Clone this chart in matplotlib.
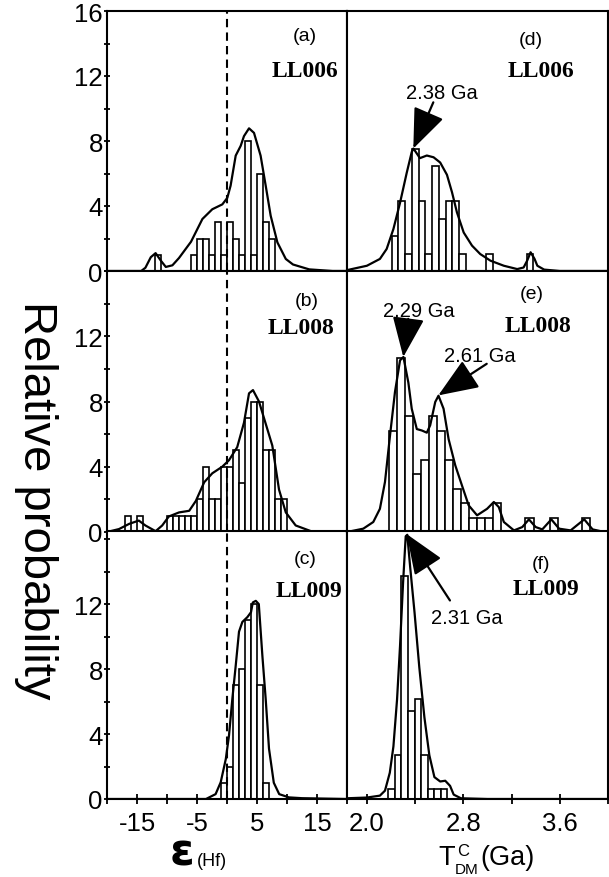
import numpy as np
import matplotlib
matplotlib.use("Agg")
import matplotlib.pyplot as plt

plt.rcParams['font.family'] = ['Liberation Sans', 'DejaVu Sans']
plt.rcParams['axes.unicode_minus'] = False

# ---- epsilon Hf histograms (bin width 1, first left edge given) ----
a_start = -12
a_counts = [1, 0, 0, 0, 0, 0, 1, 2, 2, 1, 3, 1, 3, 2, 1, 8, 1, 6, 3, 2]
b_start = -17
b_counts = [1, 0, 1, 0, 0, 0, 0, 1, 1, 1, 1, 1, 2, 4, 2, 2, 4, 4, 5, 3, 7, 8, 8, 5, 5, 2, 2]
c_start = -1
c_counts = [1, 2, 7, 8, 11, 12, 7, 1]
eps_width = 1.0

# probability curves
a_cx = [-20, -14.3, -13.6, -12.7, -11.9, -11.05, -10.2, -9.1, -8.0, -6.0, -4.1, -2.45, -0.78,
        0.05, 0.6, 1.45, 2.28, 2.83, 3.67, 4.5, 5.6, 6.45, 7.28, 8.4, 9.8, 11.0, 13.7, 17.6, 20]
a_cy = [0, 0, 0.2, 0.85, 1.1, 0.65, 0.25, 0.35, 0.8, 1.8, 3.2, 3.8, 4.1,
        4.5, 5.25, 7.1, 7.7, 8.3, 8.78, 8.5, 7.1, 5.25, 3.4, 1.76, 0.74, 0.4, 0.1, 0, 0]
b_cx = [-20, -18, -16.3, -14.7, -13.6, -11.9, -10.8, -9.7, -8.0, -6.3, -5.2, -3.8, -2.45, -0.8,
        0.33, 1.7, 2.83, 3.67, 4.33, 5.33, 6.4, 7.55, 8.67, 9.8, 11.45, 14, 20]
b_cy = [0, 0.18, 0.5, 0.7, 0.4, 0.05, 0.4, 0.95, 1.2, 1.3, 1.9, 3.05, 3.6, 4.0,
        4.4, 5.2, 6.7, 8.5, 8.7, 8.0, 6.7, 5.3, 2.6, 1.2, 0.4, 0.05, 0]
c_cx = [-20, -3.5, -1.9, -1.05, -0.2, 0.33, 0.9, 1.45, 2.0, 2.56, 3.4, 4.0, 4.3, 4.8, 5.3,
        5.9, 6.45, 7.0, 7.8, 8.7, 10.3, 12.5, 20]
c_cy = [0, 0, 0.3, 1.03, 2.46, 3.9, 6.2, 8.2, 10.3, 10.9, 11.2, 11.5, 12.1, 12.2, 12.0,
        8.8, 6.15, 3.1, 1.0, 0.3, 0.1, 0.05, 0]

# ---- T_DM^C histograms ----
d_start, d_width = 2.205, 0.056
d_counts = [2, 4, 1, 7, 4, 1, 6, 3, 4, 4, 1, 0, 0, 0, 1, 0, 0, 0, 0, 0, 1]
e_start, e_width = 2.18, 0.0668
e_counts = [7, 12, 8, 4, 5, 8, 7, 5, 3, 2, 1, 1, 1, 2, 0, 0, 0, 1, 0, 0, 1, 0, 0, 0, 1]
f_start, f_width = 2.178, 0.0545
f_counts = [0.7, 3.0, 15.3, 6.05, 6.85, 3.0, 0.7, 0.7, 0.7]

d_cx = [1.835, 2.0, 2.108, 2.164, 2.22, 2.275, 2.33, 2.372, 2.386, 2.44, 2.497, 2.553, 2.608,
        2.664, 2.706, 2.747, 2.803, 2.872, 2.94, 3.025, 3.136, 3.247, 3.3, 3.33, 3.358, 3.39,
        3.414, 3.47, 3.6, 4.0]
d_cy = [0.05, 0.3, 0.69, 1.26, 2.4, 3.9, 5.6, 6.8, 7.0, 6.45, 6.6, 6.5, 6.2,
        5.5, 4.5, 3.35, 2.2, 1.45, 0.97, 0.59, 0.3, 0.11, 0.2, 0.6, 1.07, 0.7,
        0.3, 0.08, 0, 0]
e_cx = [1.835, 1.97, 2.053, 2.108, 2.15, 2.192, 2.233, 2.275, 2.303, 2.344, 2.372, 2.414, 2.456,
        2.497, 2.525, 2.567, 2.594, 2.636, 2.678, 2.733, 2.789, 2.844, 2.914, 2.997, 3.053,
        3.094, 3.136, 3.22, 3.289, 3.344, 3.4, 3.455, 3.53, 3.594, 3.69, 3.803, 3.872, 3.97, 4.0]
e_cy = [0, 0.23, 0.69, 1.6, 3.45, 6.67, 9.66, 11.84, 12.07, 10.3, 8.5, 7.1, 7.0,
        6.85, 7.36, 8.97, 9.4, 8.5, 6.4, 4.6, 3.2, 1.84, 1.15, 1.6, 2.07,
        1.72, 0.69, 0.11, 0.34, 0.87, 0.34, 0.18, 0.87, 0.23, 0.11, 0.87, 0.18, 0, 0]
f_cx = [1.835, 2.0, 2.108, 2.15, 2.19, 2.22, 2.25, 2.275, 2.30, 2.322, 2.335, 2.36, 2.395, 2.435,
        2.477, 2.518, 2.56, 2.608, 2.65, 2.69, 2.72, 2.78, 3.0, 4.0]
f_cy = [0.05, 0.1, 0.23, 0.57, 1.8, 3.6, 6.8, 10.5, 14.8, 18.0, 18.1, 15.8, 12.8, 9.0,
        5.6, 3.0, 1.5, 1.2, 1.25, 0.9, 0.3, 0.05, 0, 0]

# peak annotations: (label, tip, tail, text pos)
d_peaks = [("2.38 Ga", (2.385, 7.0), (2.551, 9.64), (2.621, 10.2))]
e_peaks = [("2.29 Ga", (2.302, 12.07), (2.343, 14.7), (2.427, 15.3)),
           ("2.61 Ga", (2.592, 9.42), (2.994, 11.6), (2.938, 12.2))]
f_peaks = [("2.31 Ga", (2.33, 18.15), (2.689, 13.6), (2.828, 12.45))]

W, H = 609, 878
fig = plt.figure(figsize=(W / 100, H / 100), dpi=100)

def rect(x0, x1, y0, y1):
    return [x0 / W, 1 - y1 / H, (x1 - x0) / W, (y1 - y0) / H]

rows = [(12, 272), (272, 533), (532, 800)]
left_axes = [fig.add_axes(rect(107, 347, *r)) for r in rows]
right_axes = [fig.add_axes(rect(347, 608, *r)) for r in rows]

def hist(ax, start, width, counts, cx, cy):
    counts = np.asarray(counts, dtype=float)
    edges = start + width * np.arange(len(counts))
    keep = counts > 0
    ax.bar(edges[keep], counts[keep], width=width, align='edge', color='white',
           edgecolor='black', linewidth=1.2, zorder=2)
    ax.plot(cx, cy, color='black', lw=1.6, zorder=3, solid_joinstyle='round')

def frame(ax):
    for s in ax.spines.values():
        s.set_linewidth(1.5)

hist(left_axes[0], a_start, eps_width, a_counts, a_cx, a_cy)
hist(left_axes[1], b_start, eps_width, b_counts, b_cx, b_cy)
hist(left_axes[2], c_start, eps_width, c_counts, c_cx, c_cy)
hist(right_axes[0], d_start, d_width, d_counts, d_cx, d_cy)
hist(right_axes[1], e_start, e_width, e_counts, e_cx, e_cy)
hist(right_axes[2], f_start, f_width, f_counts, f_cx, f_cy)

left_ylims = [16, 16, 16.5]
right_ylims = [14.86, 18.0, 18.36]
panel_tags = ["(a)", "(b)", "(c)", "(d)", "(e)", "(f)"]
samples = ["LL006", "LL008", "LL009"]

for i, ax in enumerate(left_axes):
    frame(ax)
    ax.set_xlim(-20, 20)
    ax.set_ylim(0, left_ylims[i])
    ax.axvline(0, color='black', lw=1.5, ls=(0, (4, 2.5)), zorder=4)
    yt = np.arange(0, 17, 2)
    ax.set_yticks(yt)
    top = 16 if i == 0 else 12
    ax.set_yticklabels([str(int(v)) if (v % 4 == 0 and v <= top) else "" for v in yt])
    ax.tick_params(axis='y', direction='inout', length=4, width=1.3, pad=1, labelsize=18.5)
    if i == 2:
        xt = np.arange(-20, 21, 5)
        ax.set_xticks(xt)
        ax.set_xticklabels([str(v) if v in (-15, -5, 5, 15) else "" for v in xt])
        ax.tick_params(axis='x', direction='inout', length=7, width=1.3, pad=5, labelsize=18.5)
    else:
        ax.set_xticks([])

for i, ax in enumerate(right_axes):
    frame(ax)
    ax.set_xlim(1.835, 4.0)
    ax.set_ylim(0, right_ylims[i])
    ax.set_yticks([])
    if i == 2:
        xt = [2.0, 2.4, 2.8, 3.2, 3.6, 4.0]
        ax.set_xticks(xt)
        ax.set_xticklabels(["2.0", "", "2.8", "", "3.6", ""])
        ax.tick_params(axis='x', direction='inout', length=7, width=1.3, pad=5, labelsize=18.5)
    else:
        ax.set_xticks([])

# panel tags and sample names
tag_pos = [(0.825, 0.905), (0.831, 0.886), (0.825, 0.896),
           (0.706, 0.892), (0.706, 0.912), (0.743, 0.877)]
name_pos = [(0.824, 0.770), (0.81, 0.784), (0.842, 0.777),
            (0.743, 0.770), (0.730, 0.790), (0.762, 0.784)]
all_axes = left_axes + right_axes
for k, ax in enumerate(all_axes):
    ax.text(*tag_pos[k], panel_tags[k], transform=ax.transAxes, ha='center', va='center',
            fontsize=14)
    ax.text(*name_pos[k], samples[k % 3], transform=ax.transAxes, ha='center', va='center',
            fontsize=17, fontweight='bold', family=['Liberation Serif', 'DejaVu Serif'])

arrow_style = dict(arrowstyle='-|>,head_length=1.25,head_width=0.5', color='black', lw=1.6,
                   mutation_scale=20, shrinkA=0, shrinkB=0)
for ax, peaks in zip(right_axes, [d_peaks, e_peaks, f_peaks]):
    for label, tip, tail, tpos in peaks:
        ax.annotate('', xy=tip, xytext=tail, arrowprops=arrow_style, zorder=5)
        ax.text(*tpos, label, ha='center', va='center', fontsize=14.5, zorder=6)

# axis titles
fig.text(36 / W, 1 - 500 / H, "Relative probability", rotation=-90, ha='center', va='center',
         fontsize=34)
fig.text(182 / W, 1 - 866 / H, "ε", ha='center', va='baseline', fontsize=32,
         fontweight='bold', family=['DejaVu Sans'])
fig.text(197 / W, 1 - 866 / H, "(Hf)", ha='left', va='baseline', fontsize=13)
fig.text(438 / W, 1 - 865 / H, "T", ha='left', va='baseline', fontsize=19.5)
fig.text(457 / W, 1 - 856 / H, "C", ha='left', va='baseline', fontsize=12)
fig.text(455 / W, 1 - 874 / H, "DM", ha='left', va='baseline', fontsize=11)
fig.text(480 / W, 1 - 865 / H, "(Ga)", ha='left', va='baseline', fontsize=19.5)

fig.savefig("out.png", dpi=100)
